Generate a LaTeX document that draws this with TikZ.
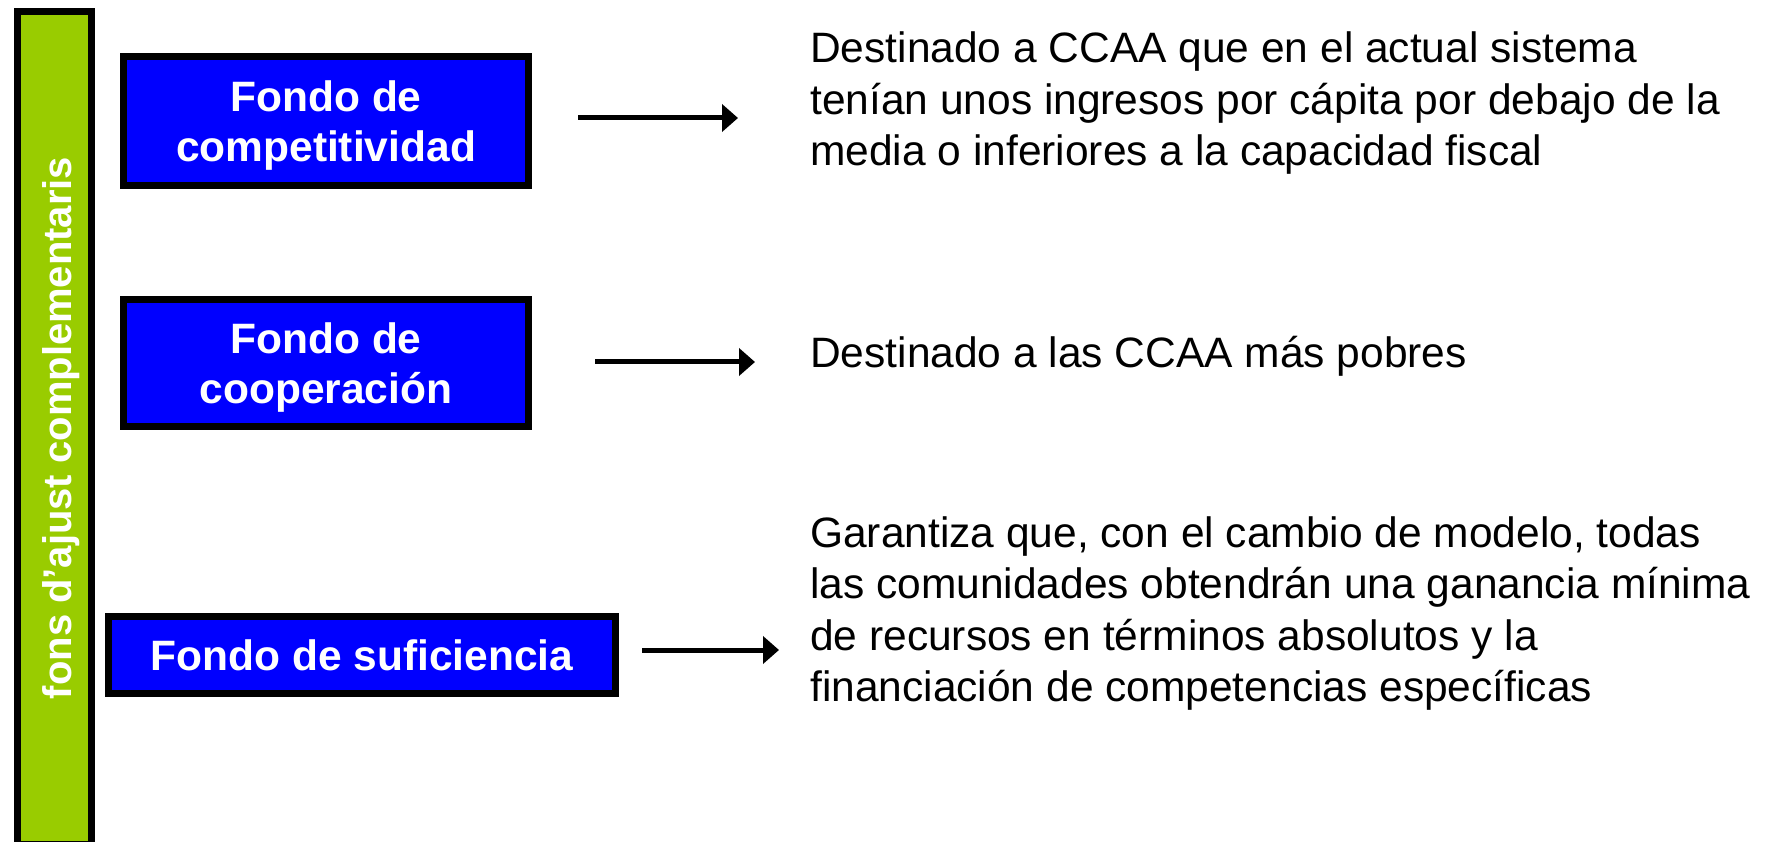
\documentclass[tikz,border=0pt]{standalone}
\usepackage{fontspec}
\setmainfont{Liberation Sans}
\usetikzlibrary{arrows.meta}
\definecolor{barGreen}{HTML}{99CC00}
\definecolor{boxBlue}{HTML}{0000FF}
\newcommand\clines[2]{\vtop{\baselineskip=#1\lineskiplimit=-100pt\halign{\hfil##\hfil\cr#2\crcr}}}
\newcommand\llines[2]{\vtop{\baselineskip=#1\lineskiplimit=-100pt\halign{##\hfil\cr#2\crcr}}}
\begin{document}
\begin{tikzpicture}[x=1pt,y=1pt,
  fondo/.style={draw=black, line width=7pt, fill=boxBlue, inner sep=0pt},
  fondotext/.style={text=white, font=\bfseries\fontsize{42.5pt}{50pt}\selectfont, inner sep=0pt, anchor=base},
  desc/.style={text=black, font=\fontsize{42.5pt}{51.5pt}\selectfont, inner sep=0pt, anchor=base west},
  arr/.style={line width=5pt, -{Triangle[length=16pt,width=27pt]}}]
\useasboundingbox (0,0) rectangle (1765,-842);
\fill[white] (0,0) rectangle (1765,-842);
% side bar
\node[draw=black, line width=7pt, fill=barGreen, minimum width=74pt, minimum height=833pt, inner sep=0pt] (bar) at (54.5,-428) {};
\node[rotate=90, text=white, font=\bfseries\fontsize{40pt}{48pt}\selectfont, inner sep=0pt, anchor=base] (bartext) at (71,-428) {fons d’ajust complementaris};
% boxes
\node[fondo, minimum width=405pt, minimum height=129pt] (b1) at (326,-121) {};
\node[fondotext] (b1t) at (326,-112) {\clines{50pt}{Fondo de\cr competitividad}};
\node[fondo, minimum width=405pt, minimum height=127pt] (b2) at (326,-363) {};
\node[fondotext] (b2t) at (326,-354) {\clines{50pt}{Fondo de\cr cooperación}};
\node[fondo, minimum width=507pt, minimum height=77pt] (b3) at (362,-655) {};
\node[fondotext] (b3t) at (362,-670) {Fondo de suficiencia};
% descriptions
\node[desc] (d1) at (810,-63) {\llines{51.5pt}{Destinado a CCAA que en el actual sistema\cr tenían unos ingresos por cápita por debajo de la\cr media o inferiores a la capacidad fiscal}};
\node[desc] (d2) at (810,-367) {Destinado a las CCAA más pobres};
\node[desc] (d3) at (810,-547) {\llines{51.5pt}{Garantiza que, con el cambio de modelo, todas\cr las comunidades obtendrán una ganancia mínima\cr de recursos en términos absolutos y la\cr financiación de competencias específicas}};
% arrows
\coordinate (a1s) at (578,-118); \coordinate (a1e) at (738,-118);
\coordinate (a2s) at (595,-362); \coordinate (a2e) at (755,-362);
\coordinate (a3s) at (642,-650); \coordinate (a3e) at (779,-650);
\draw[arr] (a1s) -- (a1e);
\draw[arr] (a2s) -- (a2e);
\draw[arr] (a3s) -- (a3e);
\end{tikzpicture}
\end{document}
